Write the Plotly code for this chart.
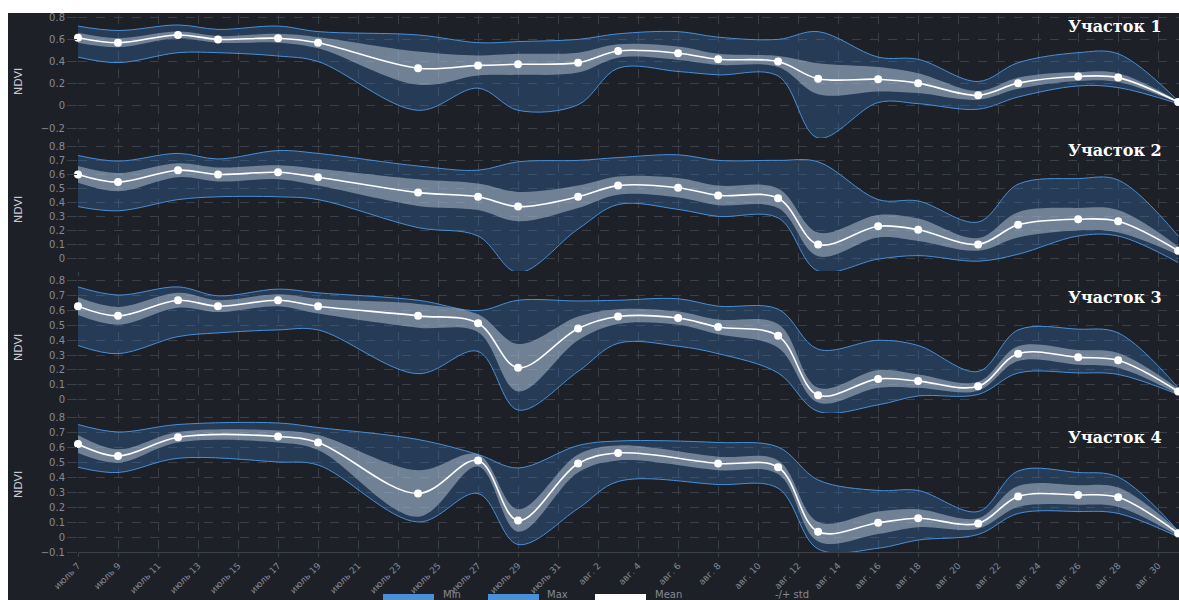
import plotly.graph_objects as go
from plotly.subplots import make_subplots

# ---------------- data ----------------
dates_a = ["2023-07-07", "2023-07-09", "2023-07-12", "2023-07-14", "2023-07-17", "2023-07-19",
           "2023-07-24", "2023-07-27", "2023-07-29", "2023-08-01", "2023-08-03", "2023-08-06",
           "2023-08-08", "2023-08-11", "2023-08-13", "2023-08-16", "2023-08-18", "2023-08-21",
           "2023-08-23", "2023-08-26", "2023-08-28", "2023-08-31"]
dates_b = ["2023-07-07", "2023-07-09", "2023-07-12", "2023-07-17", "2023-07-19",
           "2023-07-24", "2023-07-27", "2023-07-29", "2023-08-01", "2023-08-03",
           "2023-08-08", "2023-08-11", "2023-08-13", "2023-08-16", "2023-08-18", "2023-08-21",
           "2023-08-23", "2023-08-26", "2023-08-28", "2023-08-31"]

p1_mean = [0.615, 0.57, 0.64, 0.60, 0.61, 0.57, 0.34, 0.365, 0.375, 0.39, 0.495, 0.475,
           0.42, 0.40, 0.245, 0.24, 0.205, 0.095, 0.205, 0.265, 0.255, 0.035]
p1_std = [0.045, 0.04, 0.03, 0.03, 0.04, 0.05, 0.15, 0.09, 0.095, 0.09, 0.06, 0.06,
          0.05, 0.05, 0.14, 0.11, 0.09, 0.04, 0.05, 0.04, 0.04, 0.01]
p1_min = [0.44, 0.39, 0.48, 0.48, 0.45, 0.40, -0.04, 0.16, -0.04, 0.01, 0.34, 0.31,
          0.28, 0.27, -0.29, 0.03, 0.02, -0.03, 0.08, 0.18, 0.165, 0.02]
p1_max = [0.72, 0.68, 0.73, 0.69, 0.72, 0.67, 0.64, 0.57, 0.58, 0.60, 0.65, 0.67,
          0.62, 0.60, 0.67, 0.44, 0.42, 0.22, 0.39, 0.48, 0.47, 0.045]

p2_mean = [0.60, 0.545, 0.63, 0.60, 0.615, 0.58, 0.47, 0.44, 0.37, 0.44, 0.52, 0.505,
           0.45, 0.43, 0.10, 0.23, 0.205, 0.10, 0.24, 0.28, 0.265, 0.055]
p2_std = [0.06, 0.065, 0.05, 0.05, 0.05, 0.06, 0.095, 0.095, 0.105, 0.08, 0.065, 0.07,
          0.07, 0.07, 0.085, 0.08, 0.08, 0.045, 0.09, 0.08, 0.08, 0.03]
p2_min = [0.37, 0.34, 0.42, 0.44, 0.44, 0.42, 0.22, 0.16, -0.10, 0.21, 0.385, 0.35,
          0.30, 0.29, -0.09, -0.005, 0.02, -0.02, 0.03, 0.16, 0.16, -0.03]
p2_max = [0.735, 0.695, 0.75, 0.71, 0.77, 0.75, 0.66, 0.63, 0.69, 0.70, 0.72, 0.74,
          0.70, 0.70, 0.69, 0.42, 0.41, 0.26, 0.53, 0.57, 0.56, 0.16]

p3_mean = [0.63, 0.565, 0.67, 0.63, 0.67, 0.63, 0.565, 0.515, 0.215, 0.48, 0.56, 0.55,
           0.49, 0.43, 0.03, 0.14, 0.125, 0.09, 0.31, 0.285, 0.265, 0.055]
p3_std = [0.06, 0.06, 0.05, 0.04, 0.04, 0.05, 0.08, 0.06, 0.16, 0.08, 0.05, 0.045,
          0.05, 0.08, 0.05, 0.06, 0.045, 0.03, 0.05, 0.05, 0.05, 0.02]
p3_min = [0.365, 0.31, 0.425, 0.45, 0.47, 0.47, 0.175, 0.325, -0.07, 0.19, 0.38, 0.36,
          0.31, 0.18, -0.08, -0.035, 0.025, 0.035, 0.18, 0.18, 0.17, 0.035]
p3_max = [0.76, 0.705, 0.76, 0.70, 0.745, 0.72, 0.67, 0.60, 0.67, 0.665, 0.67, 0.68,
          0.63, 0.61, 0.34, 0.40, 0.365, 0.19, 0.47, 0.475, 0.45, 0.08]

p4_mean = [0.62, 0.54, 0.665, 0.67, 0.63, 0.29, 0.51, 0.11, 0.49, 0.56,
           0.49, 0.465, 0.035, 0.095, 0.125, 0.09, 0.27, 0.28, 0.265, 0.025]
p4_std = [0.06, 0.045, 0.035, 0.04, 0.05, 0.155, 0.04, 0.075, 0.06, 0.05,
          0.045, 0.045, 0.065, 0.075, 0.06, 0.035, 0.07, 0.065, 0.065, 0.02]
p4_min = [0.465, 0.43, 0.525, 0.50, 0.48, 0.10, 0.29, -0.05, 0.19, 0.37,
          0.35, 0.325, -0.08, -0.075, -0.02, 0.017, 0.157, 0.17, 0.157, 0.0]
p4_max = [0.75, 0.70, 0.75, 0.76, 0.73, 0.65, 0.55, 0.46, 0.61, 0.64,
          0.63, 0.60, 0.38, 0.31, 0.31, 0.17, 0.44, 0.43, 0.40, 0.04]

panel_titles = ["Участок 1", "Участок 2", "Участок 3", "Участок 4"]
y_title = "NDVI"

tick_dates = ["2023-07-07", "2023-07-09", "2023-07-11", "2023-07-13", "2023-07-15", "2023-07-17",
              "2023-07-19", "2023-07-21", "2023-07-23", "2023-07-25", "2023-07-27", "2023-07-29",
              "2023-07-31", "2023-08-02", "2023-08-04", "2023-08-06", "2023-08-08", "2023-08-10",
              "2023-08-12", "2023-08-14", "2023-08-16", "2023-08-18", "2023-08-20", "2023-08-22",
              "2023-08-24", "2023-08-26", "2023-08-28", "2023-08-30"]
tick_labels = ["июль 7", "июль 9", "июль 11", "июль 13", "июль 15", "июль 17", "июль 19",
               "июль 21", "июль 23", "июль 25", "июль 27", "июль 29", "июль 31",
               "авг. 2", "авг. 4", "авг. 6", "авг. 8", "авг. 10", "авг. 12", "авг. 14",
               "авг. 16", "авг. 18", "авг. 20", "авг. 22", "авг. 24", "авг. 26",
               "авг. 28", "авг. 30"]

legend_names = ["Min", "Max", "Mean", "-/+ std"]

# ---------------- style ----------------
BG = "#1d2027"
GRID = "#3a3f48"
TICK = "#858a93"
BAND_LINE = "#4a8fd6"
BAND_FILL = "rgba(60,130,210,0.28)"
STD_FILL = "rgba(205,215,228,0.45)"

W, H = 1179, 600
ML, MR, MT, MB = 78, 0, 15, 48
PW, PH = W - ML - MR, H - MT - MB


def px_x(px):
    return (px - ML) / PW


def px_y(py):
    return (H - MB - py) / PH


# panel pixel extents (top, bottom) and y-ranges
panel_px = [(15, 138), (145, 271), (278, 413), (414, 552)]
panel_ranges = [[-0.29, 0.82], [-0.09, 0.81], [-0.09, 0.82], [-0.1, 0.82]]
panel_dticks = [0.2, 0.1, 0.1, 0.1]
title_py = [27, 150, 298, 437]
ytitle_py = [82, 210, 348, 485]

panels = [
    (dates_a, p1_mean, p1_std, p1_min, p1_max),
    (dates_a, p2_mean, p2_std, p2_min, p2_max),
    (dates_a, p3_mean, p3_std, p3_min, p3_max),
    (dates_b, p4_mean, p4_std, p4_min, p4_max),
]

fig = make_subplots(rows=4, cols=1, shared_xaxes=True, vertical_spacing=0.01)

for i, (d, mean, std, mn, mx) in enumerate(panels):
    r = i + 1
    lo = [m - s for m, s in zip(mean, std)]
    hi = [m + s for m, s in zip(mean, std)]
    fig.add_trace(go.Scatter(x=d, y=mn, mode="lines", name=legend_names[0],
                             line=dict(color=BAND_LINE, width=1, shape="spline", smoothing=1.0),
                             showlegend=False, hoverinfo="skip"), row=r, col=1)
    fig.add_trace(go.Scatter(x=d, y=mx, mode="lines", name=legend_names[1], fill="tonexty",
                             fillcolor=BAND_FILL,
                             line=dict(color=BAND_LINE, width=1, shape="spline", smoothing=1.0),
                             showlegend=False, hoverinfo="skip"), row=r, col=1)
    fig.add_trace(go.Scatter(x=d, y=lo, mode="lines", name=legend_names[3],
                             line=dict(color="rgba(0,0,0,0)", width=0, shape="spline", smoothing=1.0),
                             showlegend=False, hoverinfo="skip"), row=r, col=1)
    fig.add_trace(go.Scatter(x=d, y=hi, mode="lines", name=legend_names[3], fill="tonexty",
                             fillcolor=STD_FILL,
                             line=dict(color="rgba(0,0,0,0)", width=0, shape="spline", smoothing=1.0),
                             showlegend=False, hoverinfo="skip"), row=r, col=1)
    fig.add_trace(go.Scatter(x=d, y=mean, mode="lines+markers", name=legend_names[2],
                             line=dict(color="white", width=1.6, shape="spline", smoothing=1.0),
                             marker=dict(color="white", size=8),
                             cliponaxis=False, showlegend=False), row=r, col=1)

    top, bot = panel_px[i]
    yname = "yaxis" if r == 1 else f"yaxis{r}"
    fig.layout[yname].update(
        domain=[px_y(bot), px_y(top)], range=panel_ranges[i], dtick=panel_dticks[i],
        tick0=0, showgrid=True, gridcolor=GRID, griddash="dash", gridwidth=1,
        zeroline=False, showline=False, ticks="outside", ticklen=10, tickcolor=GRID,
        tickfont=dict(family="DejaVu Sans", size=10, color=TICK),
    )
    # y axis title, placed at a fixed x like in the reference
    fig.add_annotation(xref="paper", yref="paper", x=px_x(18), y=px_y(ytitle_py[i]),
                       text=y_title, textangle=-90, showarrow=False,
                       xanchor="center", yanchor="middle",
                       font=dict(family="DejaVu Sans", size=11, color="#c9cdd3"))
    fig.add_annotation(xref="paper", yref="paper", x=px_x(1164), y=px_y(title_py[i]),
                       text="<b>" + panel_titles[i] + "</b>", showarrow=False,
                       xanchor="right", yanchor="middle",
                       font=dict(family="DejaVu Serif", size=16, color="white"))

fig.update_xaxes(range=["2023-07-07", "2023-08-31 01:00"], tickvals=tick_dates, ticktext=tick_labels,
                 showgrid=True, gridcolor=GRID, griddash="dash", gridwidth=1, zeroline=False,
                 ticks="outside", ticklen=4, tickcolor=GRID, tickangle=-45,
                 tickfont=dict(family="DejaVu Sans", size=9, color=TICK))
fig.update_xaxes(showline=True, linecolor=GRID, linewidth=1, row=4, col=1)

# background (white outer border at top and left as in the reference)
fig.add_shape(type="rect", xref="paper", yref="paper", x0=px_x(8), x1=px_x(1185),
              y0=px_y(640), y1=px_y(13), fillcolor=BG, line=dict(width=0), layer="below")

# manual legend at the bottom edge
legend_items = [(383, 434, "#4a90d9", 441), (488, 539, "#4a90d9", 545),
                (595, 646, "#ffffff", 653), (None, None, None, 773)]
for (x0, x1, col, tx), name in zip(legend_items, legend_names):
    if col is not None:
        fig.add_shape(type="rect", xref="paper", yref="paper", x0=px_x(x0), x1=px_x(x1),
                      y0=px_y(610), y1=px_y(594), fillcolor=col, line=dict(width=0))
    fig.add_annotation(xref="paper", yref="paper", x=px_x(tx), y=px_y(594), text=name,
                       showarrow=False, xanchor="left", yanchor="middle",
                       font=dict(family="DejaVu Sans", size=10, color=TICK))

fig.update_layout(width=W, height=H, margin=dict(l=ML, r=MR, t=MT, b=MB),
                  paper_bgcolor="white", plot_bgcolor=BG, showlegend=False)

fig.write_html("out.html")
